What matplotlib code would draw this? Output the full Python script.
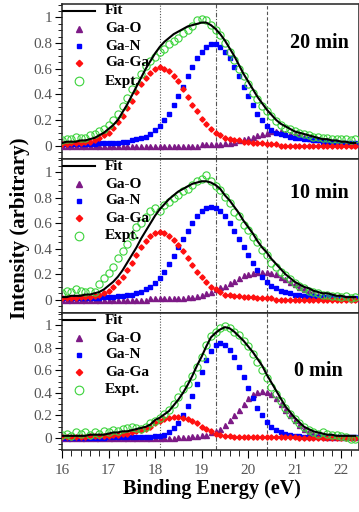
import numpy as np
import matplotlib
matplotlib.use("Agg")
import matplotlib.pyplot as plt
from matplotlib.lines import Line2D
from matplotlib.ticker import MultipleLocator, FixedLocator, FuncFormatter

plt.rcParams['font.family'] = ['Liberation Serif', 'DejaVu Serif']

# ---------------- data ----------------
energy = np.round(np.arange(16.0, 22.35, 0.1), 1)   # binding energy grid (eV), 64 points

panel_labels = ["20 min", "10 min", "0 min"]
legend_labels = ['Fit', 'Ga-O', 'Ga-N', 'Ga-Ga', 'Expt.']
ref_lines = [18.1, 19.3, 20.4]

# 20 min
ga_o_20 = [0]*30 + [0.01, 0.01, 0.01, 0.01, 0.01, 0.02, 0.02, 0.03, 0.04, 0.05,
                    0.06, 0.07, 0.08, 0.09, 0.10, 0.11, 0.11, 0.11, 0.10, 0.09,
                    0.09, 0.08, 0.07, 0.06, 0.05, 0.05, 0.04, 0.03, 0.03, 0.02,
                    0.02, 0.02, 0.01, 0.01]
ga_n_20 = [0.01, 0.01, 0.01, 0.01, 0.01, 0.01, 0.01, 0.01, 0.02, 0.02,
           0.02, 0.02, 0.02, 0.03, 0.03, 0.04, 0.05, 0.06, 0.07, 0.09,
           0.12, 0.15, 0.20, 0.25, 0.32, 0.39, 0.46, 0.54, 0.61, 0.68,
           0.73, 0.77, 0.79, 0.79, 0.77, 0.73, 0.68, 0.61, 0.54, 0.46,
           0.39, 0.32, 0.25, 0.20, 0.15, 0.12, 0.10, 0.09, 0.08, 0.07,
           0.06, 0.06, 0.05, 0.05, 0.04, 0.04, 0.03, 0.03, 0.03, 0.02,
           0.02, 0.02, 0.02, 0.02]
ga_ga_20 = [0.01, 0.01, 0.02, 0.02, 0.02, 0.03, 0.03, 0.04, 0.06, 0.08,
            0.10, 0.14, 0.18, 0.23, 0.29, 0.35, 0.42, 0.48, 0.53, 0.57,
            0.60, 0.61, 0.60, 0.58, 0.54, 0.50, 0.44, 0.38, 0.32, 0.27,
            0.21, 0.17, 0.13, 0.10, 0.08, 0.06, 0.05, 0.04, 0.04, 0.03,
            0.03, 0.02, 0.02, 0.02, 0.01, 0.01, 0.01, 0, 0, 0,
            0, 0, 0, 0, 0, 0, 0, 0, 0, 0,
            0, 0, 0, 0]
fit_20 = [0.02, 0.03, 0.03, 0.03, 0.04, 0.04, 0.05, 0.06, 0.08, 0.10,
          0.13, 0.16, 0.20, 0.26, 0.32, 0.39, 0.46, 0.53, 0.60, 0.66,
          0.72, 0.77, 0.81, 0.84, 0.87, 0.89, 0.91, 0.93, 0.94, 0.95,
          0.96, 0.96, 0.94, 0.91, 0.87, 0.82, 0.76, 0.70, 0.63, 0.56,
          0.50, 0.44, 0.38, 0.33, 0.28, 0.24, 0.20, 0.17, 0.15, 0.13,
          0.11, 0.10, 0.09, 0.08, 0.07, 0.06, 0.05, 0.05, 0.04, 0.04,
          0.03, 0.03, 0.02, 0.02]
expt_20 = [0.04, 0.05, 0.05, 0.07, 0.06, 0.06, 0.08, 0.09, 0.11, 0.13,
           0.16, 0.20, 0.25, 0.31, 0.37, 0.44, 0.50, 0.56, 0.62, 0.66,
           0.69, 0.73, 0.75, 0.79, 0.82, 0.84, 0.88, 0.90, 0.93, 0.98,
           0.99, 0.98, 0.94, 0.90, 0.86, 0.80, 0.73, 0.67, 0.60, 0.54,
           0.48, 0.41, 0.36, 0.31, 0.27, 0.23, 0.19, 0.16, 0.14, 0.13,
           0.11, 0.10, 0.09, 0.08, 0.07, 0.07, 0.06, 0.06, 0.05, 0.05,
           0.05, 0.05, 0.04, 0.05]

# 10 min
ga_o_10 = [0]*19 + [0.01]*8 + [0.02, 0.02, 0.03,
           0.04, 0.05, 0.06, 0.08, 0.10, 0.11, 0.13, 0.15, 0.17, 0.19,
           0.20, 0.21, 0.22, 0.22, 0.22, 0.21, 0.20, 0.18, 0.16, 0.14,
           0.12, 0.10, 0.08, 0.07, 0.05, 0.04, 0.04, 0.03, 0.03, 0.02,
           0.02, 0.01, 0.01, 0.01]
ga_n_10 = [0.01, 0.01, 0.01, 0.01, 0.01, 0.01, 0.01, 0.01, 0.01, 0.02,
           0.02, 0.02, 0.03, 0.03, 0.04, 0.04, 0.05, 0.06, 0.08, 0.10,
           0.13, 0.17, 0.22, 0.28, 0.34, 0.41, 0.48, 0.54, 0.60, 0.66,
           0.70, 0.72, 0.73, 0.72, 0.70, 0.66, 0.60, 0.54, 0.48, 0.41,
           0.35, 0.29, 0.23, 0.18, 0.14, 0.11, 0.09, 0.07, 0.06, 0.05,
           0.04, 0.04, 0.03, 0.03, 0.03, 0.02, 0.02, 0.02, 0.02, 0.01,
           0.01, 0.01, 0.01, 0.01]
ga_ga_10 = [0.01, 0.01, 0.01, 0.01, 0.02, 0.02, 0.02, 0.03, 0.04, 0.05,
            0.07, 0.10, 0.14, 0.18, 0.23, 0.29, 0.35, 0.41, 0.46, 0.50,
            0.52, 0.53, 0.52, 0.50, 0.47, 0.43, 0.38, 0.33, 0.27, 0.22,
            0.18, 0.14, 0.10, 0.08, 0.06, 0.04, 0.04, 0.03, 0.03, 0.02,
            0.02, 0.02, 0.01, 0.01, 0.01, 0.01, 0, 0, 0, 0,
            0, 0, 0, 0, 0, 0, 0, 0, 0, 0,
            0, 0, 0, 0]
fit_10 = [0.02, 0.02, 0.03, 0.03, 0.03, 0.04, 0.04, 0.05, 0.06, 0.08,
          0.11, 0.14, 0.18, 0.23, 0.29, 0.35, 0.41, 0.48, 0.54, 0.60,
          0.66, 0.71, 0.75, 0.79, 0.82, 0.85, 0.87, 0.89, 0.91, 0.92,
          0.93, 0.93, 0.92, 0.90, 0.87, 0.82, 0.78, 0.73, 0.68, 0.62,
          0.57, 0.52, 0.46, 0.41, 0.37, 0.32, 0.28, 0.24, 0.20, 0.17,
          0.14, 0.12, 0.10, 0.09, 0.07, 0.06, 0.05, 0.05, 0.04, 0.03,
          0.03, 0.02, 0.02, 0.02]
expt_10 = [0.05, 0.07, 0.06, 0.08, 0.07, 0.06, 0.07, 0.06, 0.12, 0.17,
           0.21, 0.26, 0.33, 0.38, 0.44, 0.50, 0.57, 0.60, 0.65, 0.70,
           0.72, 0.70, 0.74, 0.77, 0.80, 0.82, 0.85, 0.87, 0.90, 0.93,
           0.95, 0.98, 0.93, 0.89, 0.86, 0.81, 0.76, 0.69, 0.66, 0.59,
           0.55, 0.49, 0.45, 0.39, 0.35, 0.29, 0.26, 0.22, 0.19, 0.16,
           0.13, 0.11, 0.09, 0.07, 0.06, 0.05, 0.04, 0.04, 0.03, 0.03,
           0.02, 0.03, 0.01, 0.02]

# 0 min
ga_o_0 = [0]*25 + [0.01, 0.01, 0.01, 0.02, 0.02,
          0.03, 0.03, 0.05, 0.06, 0.08, 0.12, 0.16, 0.20, 0.25, 0.30,
          0.35, 0.39, 0.41, 0.42, 0.41, 0.39, 0.35, 0.30, 0.25, 0.20,
          0.16, 0.12, 0.08, 0.06, 0.04, 0.03, 0.02, 0.01, 0.01, 0.01,
          0.01, 0.01, 0.01, 0.01]
ga_n_0 = [0]*10 + [0.01]*10 + [
          0.02, 0.02, 0.03, 0.05, 0.09, 0.13, 0.20, 0.28, 0.37, 0.48,
          0.58, 0.69, 0.77, 0.82, 0.84, 0.82, 0.78, 0.72, 0.63, 0.54,
          0.44, 0.35, 0.27, 0.20, 0.14, 0.10, 0.07, 0.05, 0.04, 0.03,
          0.02, 0.02, 0.01, 0.01, 0.01, 0.01, 0.01, 0.01, 0.01, 0.01,
          0.01, 0.01, 0.01, 0.01]
ga_ga_0 = [0.01, 0.01, 0.01, 0.01, 0.01, 0.01, 0.02, 0.02, 0.02, 0.02,
           0.02, 0.03, 0.03, 0.04, 0.04, 0.05, 0.06, 0.07, 0.08, 0.10,
           0.13, 0.15, 0.17, 0.18, 0.19, 0.19, 0.18, 0.17, 0.15, 0.13,
           0.10, 0.08, 0.06, 0.04, 0.03, 0.02, 0.02, 0.01, 0.01, 0.01,
           0.01, 0.01, 0.01, 0.01, 0.01, 0.01, 0.01, 0.01, 0.01, 0.01,
           0.01, 0, 0, 0, 0, 0, 0, 0, 0, 0,
           0, 0, 0, 0]
fit_0 = [0.02, 0.02, 0.02, 0.02, 0.02, 0.02, 0.03, 0.03, 0.03, 0.03,
         0.04, 0.05, 0.05, 0.06, 0.06, 0.07, 0.08, 0.09, 0.10, 0.12,
         0.16, 0.18, 0.21, 0.24, 0.29, 0.34, 0.40, 0.47, 0.55, 0.64,
         0.72, 0.81, 0.89, 0.93, 0.96, 0.98, 0.97, 0.94, 0.90, 0.86,
         0.81, 0.76, 0.70, 0.64, 0.56, 0.49, 0.42, 0.35, 0.28, 0.23,
         0.18, 0.14, 0.10, 0.08, 0.06, 0.05, 0.04, 0.03, 0.03, 0.02,
         0.02, 0.02, 0.02, 0.02]
expt_0 = [0.03, 0.04, 0.02, 0.05, 0.04, 0.05, 0.03, 0.05, 0.04, 0.06,
          0.05, 0.07, 0.06, 0.08, 0.09, 0.10, 0.09, 0.08, 0.10, 0.13,
          0.15, 0.18, 0.21, 0.25, 0.30, 0.36, 0.43, 0.48, 0.55, 0.63,
          0.72, 0.82, 0.90, 0.94, 0.97, 0.99, 0.97, 0.94, 0.91, 0.86,
          0.81, 0.74, 0.67, 0.60, 0.53, 0.45, 0.39, 0.33, 0.27, 0.21,
          0.17, 0.13, 0.10, 0.07, 0.05, 0.04, 0.05, 0.04, 0.03, 0.03,
          0.02, 0.01, -0.01, -0.01]

panels = [
    dict(o=ga_o_20, n=ga_n_20, g=ga_ga_20, fit=fit_20, expt=expt_20, label=panel_labels[0], lpos=(21.53, 0.80)),
    dict(o=ga_o_10, n=ga_n_10, g=ga_ga_10, fit=fit_10, expt=expt_10, label=panel_labels[1], lpos=(21.52, 0.84)),
    dict(o=ga_o_0, n=ga_n_0, g=ga_ga_0, fit=fit_0, expt=expt_0, label=panel_labels[2], lpos=(21.50, 0.59)),
]

# ---------------- figure ----------------
W, H = 359, 512
fig = plt.figure(figsize=(W / 100, H / 100), dpi=100)

panel_px = [(4, 159), (159, 313), (313, 450)]   # top / bottom of each panel in pixels

def rect(top, bottom):
    return [62 / W, 1 - bottom / H, (358.5 - 62) / W, (bottom - top) / H]

C_O, C_N, C_G, C_E = '#7d1a86', '#0000ff', '#ff1010', '#3bd33b'
tick_col = '#555555'

sty_o = dict(ls='none', marker='^', ms=3.6, color=C_O, mec=C_O)
sty_n = dict(ls='none', marker='s', ms=3.0, color=C_N, mec=C_N)
sty_g = dict(ls='none', marker='D', ms=2.7, color=C_G, mec=C_G)
sty_e = dict(ls='none', marker='o', ms=5.2, mfc='none', mec=C_E, mew=0.8)
sty_f = dict(color='black', lw=1.5)

def yfmt(v, pos):
    if abs(v) < 1e-9:
        return '0'
    if abs(v - 1) < 1e-9:
        return '1'
    return f'{v:.1f}'

leg_offsets = [7, 25, 42, 59, 77]   # rows below panel top (px)

for k, (p, (ptop, pbot)) in enumerate(zip(panels, panel_px)):
    ax = fig.add_axes(rect(ptop, pbot))
    ax.set_xlim(16, 22.37)
    ax.set_ylim(-0.105, 1.105)

    ax.axvline(ref_lines[0], color='#555555', lw=0.8, ls=(0, (1, 1.5)), zorder=1)
    ax.axvline(ref_lines[1], color='#555555', lw=0.8, ls=(0, (4, 1.5, 1, 1.5)), zorder=1)
    ax.axvline(ref_lines[2], color='#555555', lw=0.8, ls=(0, (3, 2)), zorder=1)

    ax.plot(energy, p['o'], zorder=3, **sty_o)
    ax.plot(energy, p['n'], zorder=3, **sty_n)
    ax.plot(energy, p['g'], zorder=3, **sty_g)
    ax.plot(energy, p['expt'], zorder=4, **sty_e)
    ax.plot(energy, p['fit'], zorder=5, **sty_f)

    ax.text(p['lpos'][0], p['lpos'][1], p['label'], ha='center', va='center',
            fontsize=14.5, fontweight='bold', color='black')

    ax.yaxis.set_major_locator(FixedLocator([0, 0.2, 0.4, 0.6, 0.8, 1.0]))
    ax.yaxis.set_minor_locator(MultipleLocator(0.05))
    ax.yaxis.set_major_formatter(FuncFormatter(yfmt))
    ax.xaxis.set_major_locator(MultipleLocator(1))
    ax.xaxis.set_minor_locator(MultipleLocator(0.2))

    ax.tick_params(axis='y', which='major', direction='out', length=5, width=0.8,
                   labelsize=11, labelcolor=tick_col, pad=2)
    ax.tick_params(axis='y', which='minor', direction='out', length=3, width=0.6)
    if k == 2:
        ax.tick_params(axis='x', which='major', direction='out', length=6, width=0.8,
                       labelsize=11, labelcolor=tick_col, pad=4)
        ax.tick_params(axis='x', which='minor', direction='out', length=4, width=0.6)
    else:
        ax.tick_params(axis='x', which='both', length=0, labelbottom=False)

    for s in ax.spines.values():
        s.set_linewidth(1.1)
        s.set_color('#222222')

    # legend (drawn in figure pixel layout)
    ys = [1 - (ptop + off) / H for off in leg_offsets]
    fig.add_artist(Line2D([63 / W, 95 / W], [ys[0], ys[0]], transform=fig.transFigure, **sty_f))
    for sty, yy, sc in zip([sty_o, sty_n, sty_g, sty_e], ys[1:], [1.25, 1.2, 1.2, 1.2]):
        st = dict(sty)
        st['ms'] = st['ms'] * sc
        fig.add_artist(Line2D([79 / W], [yy], transform=fig.transFigure, **st))
    for lab, yy in zip(legend_labels, ys):
        fig.text(105 / W, yy, lab, ha='left', va='center', fontsize=11, fontweight='bold')

fig.text(20 / W, 1 - 228 / H, 'Intensity (arbitrary)', rotation=90, ha='center', va='center',
         fontsize=15, fontweight='bold')
fig.text(212 / W, 1 - 489 / H, 'Binding Energy (eV)', ha='center', va='center',
         fontsize=14.5, fontweight='bold')

fig.savefig('out.png', dpi=100)
